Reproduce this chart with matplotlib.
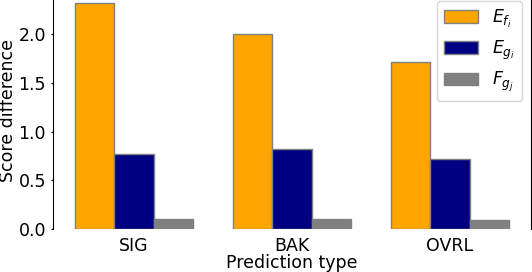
import numpy as np
import matplotlib.pyplot as plt

categories = ['SIG', 'BAK', 'OVRL']
e_f = [2.32, 2.00, 1.72]
e_g = [0.77, 0.82, 0.715]
f_g = [0.10, 0.10, 0.09]
labels = [r'$E_{f_i}$', r'$E_{g_i}$', r'$F_{g_j}$']
colors = ['orange', 'navy', 'gray']

fig = plt.figure(figsize=(5.32, 2.72), dpi=100)
# axes top sits a bit above the figure edge (reference is cropped there)
ax = fig.add_axes([53/532, 43/272, 478/532, 237/272])

x = np.arange(len(categories))
w = 0.25
for i, (vals, lab, c) in enumerate(zip([e_f, e_g, f_g], labels, colors)):
    ax.bar(x + (i - 1) * w, vals, w, color=c, edgecolor='gray', linewidth=1, label=lab)

ax.set_xticks(x)
ax.set_xticklabels(categories)
ax.tick_params(labelsize=12.5)
ax.tick_params(axis='y', length=1.5)
ax.tick_params(axis='x', length=0, pad=6)
ax.set_yticks([0, 0.5, 1.0, 1.5, 2.0])
ax.set_xlabel('Prediction type', fontsize=12.5, labelpad=-1)
ax.set_ylabel('Score difference', fontsize=12.5, labelpad=1)
ax.spines['top'].set_visible(False)
ax.spines['bottom'].set_visible(False)
ax.legend(loc='upper right', fontsize=12.5)

plt.savefig('out.png', dpi=100)
